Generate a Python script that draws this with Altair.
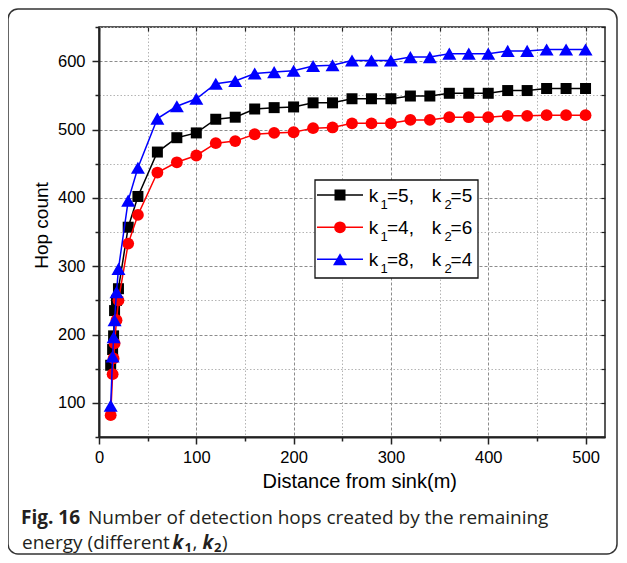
import altair as alt
import pandas as pd

# ---- data ----
distance = [12, 14, 15, 16, 18, 20, 30, 40, 60, 80, 100, 120, 140, 160, 180, 200,
            220, 240, 260, 280, 300, 320, 340, 360, 380, 400, 420, 440, 460, 480, 500]
hops_k5_5 = [155, 178, 198, 235, 250, 267, 357, 402, 467, 488, 495, 515, 518, 530, 532, 533,
             539, 539, 545, 545, 545, 549, 549, 553, 553, 553, 557, 557, 560, 560, 560]
hops_k4_6 = [82, 142, 165, 187, 221, 250, 333, 375, 437, 452, 462, 480, 483, 493, 495, 496,
             502, 503, 509, 509, 509, 514, 514, 518, 518, 518, 520, 520, 521, 521, 521]
hops_k8_4 = [96, 168, 196, 221, 262, 296, 396, 444, 516, 534, 545, 567, 571, 582, 584, 586,
             593, 594, 601, 601, 601, 606, 606, 611, 611, 611, 615, 615, 617, 617, 617]
k1_values = [5, 4, 8]
k2_values = [5, 6, 4]
x_ticks = [0, 100, 200, 300, 400, 500]
y_ticks = [100, 200, 300, 400, 500, 600]
x_minor = [50, 150, 250, 350, 450]
y_minor = [50, 150, 250, 350, 450, 550, 650]
x_title = "Distance from sink(m)"
y_title = "Hop count"
caption_bold = "Fig. 16"
caption_line1 = "Number of detection hops created by the remaining"
caption_line2 = "energy (different"

series_values = [hops_k5_5, hops_k4_6, hops_k8_4]
colors = ["#000000", "#ff0000", "#0000ff"]
shapes = ["square", "circle", "triangle-up"]
sizes = [121, 140, 196]

FONT = "Liberation Sans"
CAP_FONT = "Open Sans"

common = dict(tickColor="#222", tickWidth=1.5, domainColor="#222", domainWidth=2,
              labelOverlap=False, labelFlush=False)

x_major = alt.Axis(
    values=x_ticks, grid=True, gridColor="#8c8c8c", gridDash=[3, 2], gridWidth=1,
    tickSize=7, labelFont=FONT, labelFontSize=16.5, labelColor="#000", labelPadding=5,
    title=x_title, titleFont=FONT, titleFontSize=20, titleFontWeight="normal",
    titleColor="#000", titleX=163, titleY=50, titleAlign="left", titleBaseline="alphabetic",
    orient="bottom", **common,
)
y_major = alt.Axis(
    values=y_ticks, grid=True, gridColor="#8c8c8c", gridDash=[3, 2], gridWidth=1,
    tickSize=7, labelFont=FONT, labelFontSize=16.5, labelColor="#000", labelPadding=7,
    title=y_title, titleFont=FONT, titleFontSize=19, titleFontWeight="normal",
    titleColor="#000", titleX=-52, titleY=198, titleAngle=270, titleAlign="center",
    titleBaseline="alphabetic", orient="left", **common,
)
x_minor_ax = alt.Axis(values=x_minor, grid=True, gridColor="#b4b4b4", gridDash=[1.5, 2],
                      gridWidth=1, tickSize=4, labels=False, domain=False, title=None,
                      tickColor="#222", tickWidth=1.5, orient="bottom")
y_minor_ax = alt.Axis(values=y_minor, grid=True, gridColor="#b4b4b4", gridDash=[1.5, 2],
                      gridWidth=1, tickSize=4, labels=False, domain=False, title=None,
                      tickColor="#222", tickWidth=1.5, orient="left")
x_top_ax = alt.Axis(values=x_ticks + x_minor, grid=False, tickSize={"expr": "-4"},
                    labels=False, domain=False, title=None, tickColor="#222", tickWidth=1.2,
                    orient="top")
y_right_ax = alt.Axis(values=y_ticks + y_minor, grid=False, tickSize={"expr": "-4"},
                      labels=False, domain=False, title=None, tickColor="#222", tickWidth=1.2,
                      orient="right")

x_scale = alt.Scale(domain=[0, 520], nice=False, zero=False)
y_scale = alt.Scale(domain=[50, 650], nice=False, zero=False)

axes_for_layer = [
    (x_major, y_major),
    (x_minor_ax, y_minor_ax),
    (x_top_ax, y_right_ax),
]

layers = []
k = 0
for i, vals in enumerate(series_values):
    df = pd.DataFrame({"distance": distance, "hops": vals})
    for mk in ("line", "point"):
        if k < len(axes_for_layer):
            ax, ay = axes_for_layer[k]
        else:
            ax, ay = None, None
        k += 1
        base = alt.Chart(df).encode(
            x=alt.X("distance:Q", scale=x_scale, axis=ax),
            y=alt.Y("hops:Q", scale=y_scale, axis=ay),
        )
        if mk == "line":
            layers.append(base.mark_line(color=colors[i], strokeWidth=1.5))
        else:
            layers.append(base.mark_point(shape=shapes[i], filled=True, opacity=1,
                                          color=colors[i], size=sizes[i]))

one = pd.DataFrame({"a": [0]})

# outer rounded frame
layers.append(
    alt.Chart(one).mark_rect(fillOpacity=0, stroke="#333", strokeWidth=1.5, cornerRadius=10)
    .encode(x=alt.value(-91), x2=alt.value(518), y=alt.value(-18), y2=alt.value(527))
)

# legend box
layers.append(
    alt.Chart(one).mark_rect(fill="white", stroke="#111", strokeWidth=1.3)
    .encode(x=alt.value(216), x2=alt.value(379), y=alt.value(153), y2=alt.value(251))
)
row_y = [168, 200.3, 232.3]
for i in range(3):
    ry = row_y[i]
    layers.append(alt.Chart(one).mark_rule(color=colors[i], strokeWidth=1.5)
                  .encode(x=alt.value(218), x2=alt.value(264), y=alt.value(ry)))
    layers.append(alt.Chart(one).mark_point(shape=shapes[i], filled=True, opacity=1,
                                            color=colors[i], size=sizes[i])
                  .encode(x=alt.value(241), y=alt.value(ry)))
    pieces = [
        ("k", 269.7, 7, 19),
        ("1", 281.5, 14, 13),
        (f"={k1_values[i]},", 288, 7, 19),
        ("k", 332.7, 7, 19),
        ("2", 345.6, 14, 13),
        (f"={k2_values[i]}", 351.6, 7, 19),
    ]
    for txt, px, dy, fs in pieces:
        layers.append(
            alt.Chart(pd.DataFrame({"t": [txt]}))
            .mark_text(align="left", baseline="alphabetic", font=FONT, fontSize=fs, color="#000")
            .encode(text="t:N", x=alt.value(px), y=alt.value(ry + dy))
        )

# caption
cap_pieces = [
    (caption_bold, -78, 497.3, 19, "bold", "normal"),
    (caption_line1, -11, 497.3, 19, "normal", "normal"),
    (caption_line2, -77, 522, 19, "normal", "normal"),
    ("k", 73.5, 522, 19, "bold", "italic"),
    ("1", 85.5, 524.5, 13, "bold", "normal"),
    (",", 93.5, 522, 19, "normal", "normal"),
    ("k", 103.5, 522, 19, "bold", "italic"),
    ("2", 115, 524.5, 13, "bold", "normal"),
    (")", 123, 522, 19, "normal", "normal"),
]
for txt, px, py, fs, fw, fst in cap_pieces:
    layers.append(
        alt.Chart(pd.DataFrame({"t": [txt]}))
        .mark_text(align="left", baseline="alphabetic", font=CAP_FONT, fontSize=fs,
                   fontWeight=fw, fontStyle=fst, color="#231f20")
        .encode(text="t:N", x=alt.value(px), y=alt.value(py))
    )

chart = (
    alt.layer(*layers)
    .resolve_axis(x="independent", y="independent")
    .properties(width=506, height=410,
                padding={"left": 91, "top": 19, "right": 14, "bottom": 118},
                autosize=alt.AutoSizeParams(type="none"))
    .configure_view(stroke="#222", strokeWidth=1.5)
)

chart.save("out.html", embed_options={"renderer": "svg", "actions": False})
